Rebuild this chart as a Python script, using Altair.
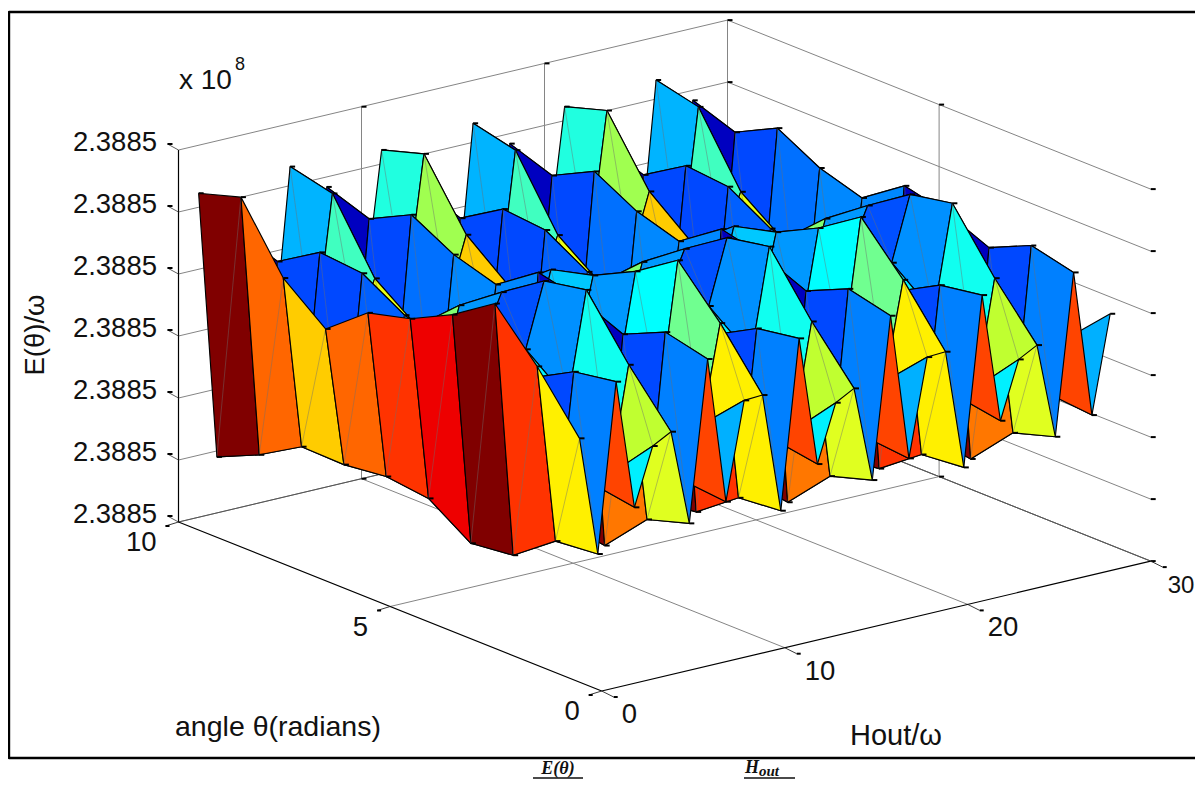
import altair as alt
import pandas as pd

# ---- data -----------------------------------------------------------------
theta_cols = [10, 9, 8, 7, 6, 5, 4, 3, 2, 1]
H_rows = [1.1 + k for k in range(30)]
# height of the surface above the base of the E axis (the axis spans 0..372),
# one list per H row, theta = 10 .. 1; the surface repeats every 10 H steps
z1 = [324, 337, 273, 239, 272, 283, 304, 332, 286, 231]
z2 = [56, 75, 100, 99, 104, 99, 71, 76, 107, 111]
z3 = [279, 264, 290, 286, 261, 250, 250, 249, 272, 279]
z4 = [110, 130, 160, 170, 170, 180, 190, 180, 156, 149]
z5 = [140, 171, 204, 181, 188, 245, 252, 219, 161, 206]
z6 = [329, 319, 251, 220, 258, 288, 316, 324, 266, 216]
z7 = [56, 75, 100, 99, 104, 99, 71, 64, 107, 120]
z8 = [300, 285, 306, 283, 270, 299, 289, 271, 290, 280]
z9 = [120, 130, 150, 160, 170, 170, 170, 140, 137, 133]
z10 = [176, 196, 212, 184, 196, 203, 200, 197, 189, 230]
z_period = [z1, z2, z3, z4, z5, z6, z7, z8, z9, z10]

c1 = ['#800000', '#ff6600', '#ffcc00', '#ff6600', '#ff3300', '#ee0000', '#800000', '#ff3300', '#fff000']
c2 = ['#0000c0', '#0048ff', '#0048ff', '#0060ff', '#0070ff', '#0070ff', '#0050ff', '#0048ff', '#0080ff']
c3 = ['#ff4400', '#ff4400', '#ff4400', '#ff4400', '#ff4400', '#ff4400', '#ff4400', '#ff4400', '#ff4400']
c4 = ['#00c0ff', '#00c0ff', '#00d0ff', '#00d0ff', '#00e0ff', '#00e0ff', '#00f0ff', '#00f0ff', '#00f0ff']
c5 = ['#00b4ff', '#40ffc0', '#e8ff10', '#80ff70', '#0098ff', '#0050ff', '#0090ff', '#10fff0', '#c0ff30']
c6 = ['#800000', '#ff6600', '#ffcc00', '#ff6600', '#ff3300', '#ee0000', '#800000', '#ff7700', '#e0ff20']
c7 = ['#0000c0', '#0048ff', '#0070ff', '#0088ff', '#0088ff', '#0000c0', '#0000c0', '#0048ff', '#0080ff']
c8 = ['#ff4400', '#ff4400', '#ff4400', '#ff4400', '#ff4400', '#ff4400', '#ff4400', '#ff4400', '#ff4400']
c9 = ['#00b0ff', '#00b0ff', '#00b0ff', '#00b0ff', '#00b0ff', '#00b0ff', '#00b0ff', '#00b0ff', '#00b0ff']
c10 = ['#20ffe0', '#a0ff50', '#ffcc00', '#0090ff', '#00c8ff', '#0098ff', '#00ffff', '#70ff90', '#fff000']
c_period = [c1, c2, c3, c4, c5, c6, c7, c8, c9, c10]

theta_ticks = [0, 5, 10]
H_ticks = [0, 10, 20, 30]
z_ticks = [0, 62, 124, 186, 248, 310, 372]
z_label = "2.3885"

# ---- 3-D view of the box --------------------------------------------------
O = (601.7, 691.0)
TH = (-42.32, -16.9)
HV = (18.3, -4.33)


def project(t, h, z=0.0):
    return (O[0] + TH[0] * t + HV[0] * h, O[1] + TH[1] * t + HV[1] * h - z)


rows = []
gid = [0]


def poly(points, fill="transparent", stroke="#000000", width=1.0):
    gid[0] += 1
    for k, (x, y) in enumerate(points):
        rows.append(dict(g=gid[0], o=k, x=x, y=y, f=fill, s=stroke, w=width))


GRID = "#858585"
# back walls and floor
for z in z_ticks:
    poly([project(10, 0, z), project(10, 30, z), project(0, 30, z)], stroke=GRID)
for h in H_ticks[1:]:
    poly([project(10, h), project(10, h, 372)], stroke=GRID)
    poly([project(0, h), project(10, h)], stroke=GRID)
poly([project(5, 30), project(5, 30, 372)], stroke=GRID)
poly([project(5, 0), project(5, 30)], stroke=GRID)
poly([project(10, 30), project(0, 30)], stroke="#555555")
poly([project(10, 0), project(10, 30)], stroke="#555555")
grid_df = pd.DataFrame(rows)
rows.clear()

# axes + ticks
poly([project(10, 0, 372), project(10, 0), project(0, 0), project(0, 30)], stroke="#000000", width=1.2)


def dash(px, py, n=5):
    poly([(px, py), (px + n, py)], stroke="#000000", width=2)


for z in z_ticks:
    x, y = project(10, 0, z)
    poly([(x, y), (x - 11, y - 6)], stroke="#333333", width=0.8)
    dash(x - 11, y - 6)
    x, y = project(0, 30, z)
    dash(x, y, 5)
    x, y = project(10, 30, z)
    dash(x, y, 5)
for t in theta_ticks:
    x, y = project(t, 0)
    poly([(x, y), (x - 13, y + 4)], stroke="#222222", width=0.9)
    dash(x - 13, y + 4, 4)
for h in H_ticks:
    x, y = project(0, h)
    poly([(x, y), (x + 12, y + 6)], stroke="#222222", width=0.9)
    dash(x + 12, y + 6, 4)
for h in H_ticks[1:3]:
    for z in (0, 372):
        x, y = project(10, h, z)
        dash(x, y, 5)
for z in (0, 372):
    x, y = project(5, 30, z)
    dash(x, y, 5)
axis_df = pd.DataFrame(rows)
rows.clear()

# the surface, far rows first
Z = [z_period[k % 10] for k in range(len(H_rows))]
P = [[project(t, H_rows[h], Z[h][i]) for i, t in enumerate(theta_cols)] for h in range(len(H_rows))]
quads = [(h, i) for h in range(len(H_rows) - 2, -1, -1) for i in range(len(theta_cols) - 1)]
last = {}
for q, (h, i) in enumerate(quads):
    for v in ((h, i), (h, i + 1), (h + 1, i), (h + 1, i + 1)):
        last[v] = q
for q, (h, i) in enumerate(quads):
    corners = [P[h][i], P[h][i + 1], P[h + 1][i + 1], P[h + 1][i], P[h][i]]
    poly(corners, fill=c_period[h % 10][i], stroke="#000000", width=1.15)
    poly([P[h + 1][i], P[h][i + 1]], stroke="rgba(110,110,110,0.55)", width=0.8)
    for v in ((h, i), (h, i + 1), (h + 1, i), (h + 1, i + 1)):
        if last[v] == q:
            dash(P[v[0]][v[1]][0], P[v[0]][v[1]][1], 5)
surf_df = pd.DataFrame(rows)
rows.clear()

# frame and underlines
poly([(1203, 12), (9, 12), (9, 758), (1203, 758)], stroke="#000000", width=2.4)
poly([(533, 778), (583, 778)], stroke="#4a4a4a", width=1.8)
poly([(744, 778), (795, 778)], stroke="#4a4a4a", width=1.8)
frame_df = pd.DataFrame(rows)
rows.clear()

X = alt.X("x:Q", axis=None, scale=alt.Scale(domain=[8, 1195], nice=False, zero=False))
Y = alt.Y("y:Q", axis=None, scale=alt.Scale(domain=[779, 8], nice=False, zero=False))


def lines(df):
    return alt.Chart(df).mark_line(strokeJoin="round", clip=False).encode(
        x=X, y=Y,
        detail="g:N",
        order="o:Q",
        fill=alt.Fill("f:N", scale=None),
        stroke=alt.Stroke("s:N", scale=None),
        strokeWidth=alt.StrokeWidth("w:Q", scale=None),
    )


def texts(items, align="left", font="Liberation Sans", **kw):
    df = pd.DataFrame(items, columns=["x", "y", "t", "sz"])
    return alt.Chart(df).mark_text(align=align, baseline="middle", font=font, color="#111111", **kw).encode(
        x=X, y=Y, text="t:N", size=alt.Size("sz:Q", scale=None)
    )


FS = 27.5
z_items = [(project(10, 0, z)[0] - 21.5, project(10, 0, z)[1] - 7.5, z_label, FS) for z in z_ticks]
t_items = [(project(t, 0)[0] - 22, project(t, 0)[1] + 21, str(t), FS) for t in theta_ticks]
h_items = [(project(0, h)[0] + 20, project(0, h)[1] + 24, str(h), FS) for h in H_ticks[:-1]]
# the right end of the picture is 8px short of the reference's: keep "30" inside it
h_items += [(project(0, 30)[0] + 17, project(0, 30)[1] + 25, str(H_ticks[-1]), 24)]

chart = alt.layer(
    lines(grid_df),
    lines(axis_df),
    lines(surf_df),
    lines(frame_df),
    texts(z_items + t_items, align="right"),
    texts(h_items + [(175, 727, "angle \u03b8(radians)", 28.5), (850, 736, "Hout/\u03c9", 29),
                     (179, 81, "x 10", 28), (235, 65, "8", 18)]),
    texts([(36, 335, "E(\u03b8)/\u03c9", FS)], align="center", angle=270),
    texts([(558, 769, "E(\u03b8)", 18)], align="center", font="Liberation Serif", fontStyle="italic", fontWeight="bold"),
    texts([(745, 768, "H", 18)], font="Liberation Serif", fontStyle="italic", fontWeight="bold"),
    texts([(759, 771, "out", 15)], font="Liberation Serif", fontStyle="italic", fontWeight="bold"),
).properties(
    width=1187, height=771, padding=0,
    autosize=alt.AutoSizeParams(type="none"),
    background="#ffffff",
).configure_view(stroke=None)

chart.save("out.html", embed_options={"renderer": "svg", "actions": False})
